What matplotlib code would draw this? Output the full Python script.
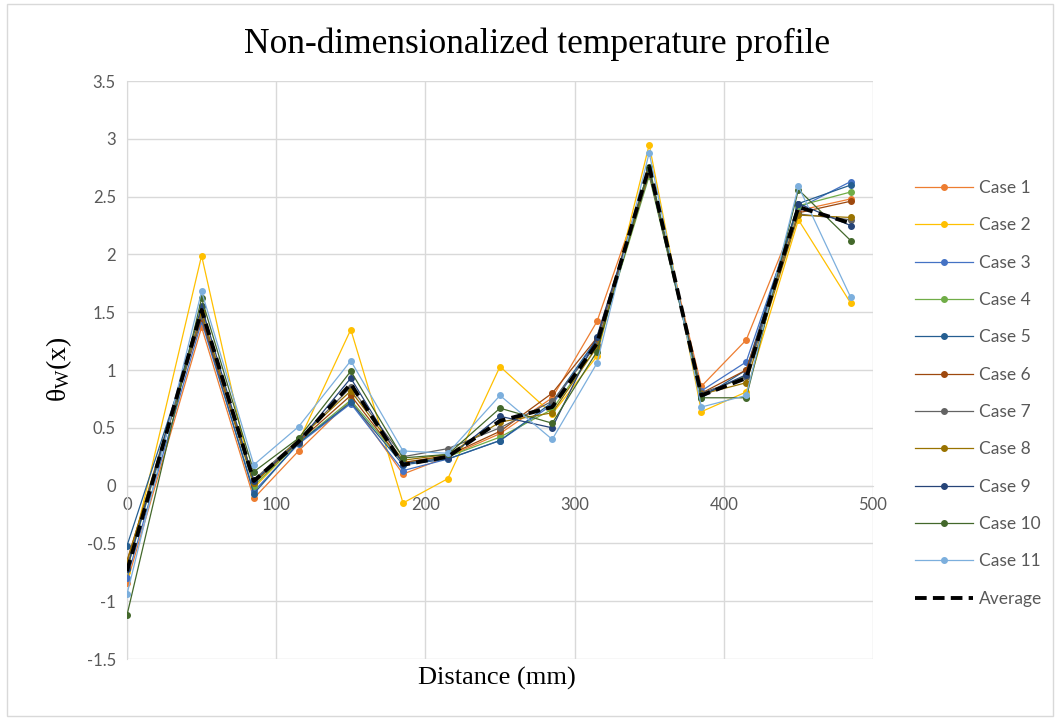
import matplotlib.pyplot as plt
from matplotlib.patches import Rectangle

# --- data ---
distance = [0, 50, 85, 115, 150, 185, 215, 250, 285, 315, 350, 385, 415, 450, 485]

case_1 = [-0.84, 1.37, -0.11, 0.30, 0.74, 0.10, 0.25, 0.45, 0.76, 1.42, 2.72, 0.86, 1.26, 2.38, 2.48]
case_2 = [-0.75, 1.99, -0.02, 0.38, 1.35, -0.15, 0.06, 1.03, 0.62, 1.12, 2.95, 0.64, 0.81, 2.30, 1.58]
case_3 = [-0.80, 1.42, -0.05, 0.36, 0.71, 0.13, 0.23, 0.39, 0.70, 1.26, 2.70, 0.82, 1.07, 2.40, 2.63]
case_4 = [-0.72, 1.48, 0.00, 0.37, 0.74, 0.20, 0.25, 0.42, 0.66, 1.20, 2.68, 0.78, 0.95, 2.42, 2.54]
case_5 = [-0.52, 1.45, -0.07, 0.37, 0.72, 0.18, 0.23, 0.39, 0.72, 1.27, 2.71, 0.76, 1.00, 2.44, 2.60]
case_6 = [-0.65, 1.45, 0.02, 0.38, 0.78, 0.20, 0.26, 0.47, 0.80, 1.28, 2.72, 0.80, 1.00, 2.36, 2.46]
case_7 = [-0.70, 1.47, 0.05, 0.40, 0.85, 0.25, 0.32, 0.50, 0.73, 1.22, 2.70, 0.80, 0.94, 2.35, 2.30]
case_8 = [-0.66, 1.50, 0.02, 0.40, 0.82, 0.22, 0.27, 0.55, 0.63, 1.20, 2.72, 0.79, 0.89, 2.34, 2.32]
case_9 = [-0.72, 1.55, 0.04, 0.38, 0.93, 0.19, 0.24, 0.60, 0.50, 1.29, 2.74, 0.78, 0.96, 2.44, 2.25]
case_10 = [-1.12, 1.62, 0.12, 0.41, 0.99, 0.24, 0.27, 0.67, 0.54, 1.16, 2.76, 0.76, 0.76, 2.56, 2.12]
case_11 = [-0.94, 1.68, 0.18, 0.51, 1.08, 0.30, 0.28, 0.78, 0.40, 1.06, 2.88, 0.68, 0.78, 2.59, 1.63]
average = [-0.74, 1.52, 0.04, 0.38, 0.88, 0.18, 0.25, 0.56, 0.68, 1.23, 2.76, 0.78, 0.93, 2.41, 2.27]

cases = [case_1, case_2, case_3, case_4, case_5, case_6, case_7, case_8, case_9, case_10, case_11]
case_names = ["Case %d" % (i + 1) for i in range(len(cases))]
colors = ["#ED7D31", "#FFC000", "#4472C4", "#70AD47", "#255E91", "#9E480E",
          "#636363", "#997300", "#264478", "#43682B", "#7CAFDD"]

x_ticks = [0, 100, 200, 300, 400, 500]
y_ticks = [-1.5, -1, -0.5, 0, 0.5, 1, 1.5, 2, 2.5, 3, 3.5]

# --- figure ---
fig = plt.figure(figsize=(10.6, 7.19), dpi=100)
ax = fig.add_axes([0.1198, 0.0834, 0.7038, 0.8039])

for vals, name, col in zip(cases, case_names, colors):
    ax.plot(distance, vals, color=col, lw=0.9, marker="o", ms=4, label=name, zorder=3)
ax.plot(distance, average, color="black", lw=2.8, ls=(0, (3, 1.6)), label="Average", zorder=5)

ax.set_xlim(0, 500)
ax.set_ylim(-1.5, 3.5)
ax.set_xticks(x_ticks)
ax.set_yticks(y_ticks)
ax.set_yticklabels(["%g" % v for v in y_ticks])
ax.grid(True, color="#d9d9d9", lw=1)
ax.set_axisbelow(True)

for s in ["top", "right"]:
    ax.spines[s].set_visible(False)
ax.spines["left"].set_color("#d9d9d9")
ax.spines["bottom"].set_position(("data", 0))
ax.spines["bottom"].set_color("#d9d9d9")
ax.tick_params(length=0, labelsize=12, labelcolor="#595959", pad=8)
for lab in ax.get_xticklabels() + ax.get_yticklabels():
    lab.set_family("Lato")

fig.text(0.507, 0.939, "Non-dimensionalized temperature profile", family="Liberation Serif",
         fontsize=25.5, ha="center", va="center")
fig.text(0.469, 0.057, "Distance (mm)", family="Liberation Serif", fontsize=19,
         ha="center", va="center")
fig.text(0.056, 0.487, r"$\mathregular{\theta_W(x)}$", family="Liberation Serif",
         fontsize=20, rotation=90, ha="center", va="center")

leg = ax.legend(loc="upper left", bbox_to_anchor=(1.036, 0.856), frameon=False,
                prop={"family": "Lato", "size": 12.5}, labelspacing=1.23,
                handlelength=3.3, handletextpad=0.35)
for t in leg.get_texts():
    t.set_color("#595959")

fig.patches.append(Rectangle((0.007, 0.004), 0.986, 0.99, transform=fig.transFigure,
                             fill=False, edgecolor="#d9d9d9", lw=1))

fig.savefig("out.png", dpi=100)
